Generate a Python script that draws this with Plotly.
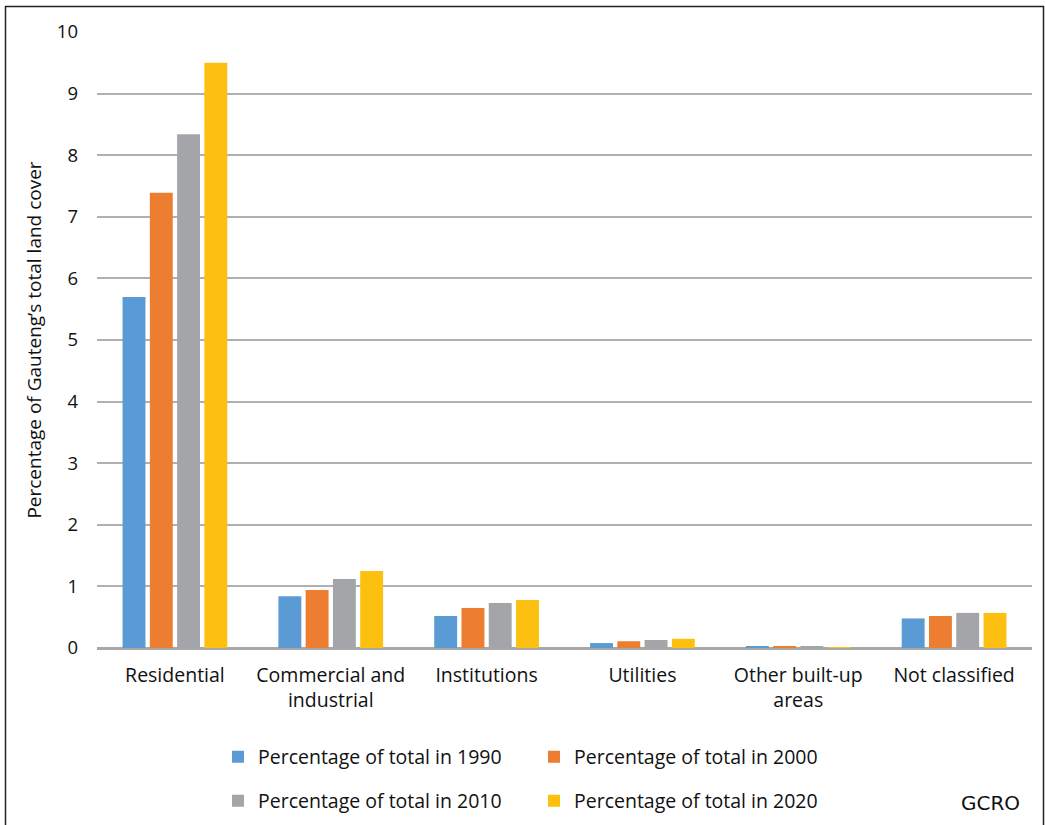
import plotly.graph_objects as go

categories = ["Residential", "Commercial and<br>industrial", "Institutions", "Utilities",
              "Other built-up<br>areas", "Not classified"]
pct_1990 = [5.70, 0.84, 0.52, 0.08, 0.02, 0.48]
pct_2000 = [7.39, 0.94, 0.65, 0.11, 0.02, 0.52]
pct_2010 = [8.34, 1.12, 0.73, 0.13, 0.02, 0.57]
pct_2020 = [9.50, 1.25, 0.78, 0.15, 0.015, 0.57]
series_names = ["Percentage of total in 1990", "Percentage of total in 2000",
                "Percentage of total in 2010", "Percentage of total in 2020"]
colors = ["#5B9BD5", "#ED7D31", "#A4A5A8", "#FDC010"]
y_ticks = list(range(0, 11))

FONT = "'Open Sans', 'Noto Sans', sans-serif"

fig = go.Figure()
legends = ["legend", "legend", "legend2", "legend2"]
for name, vals, col, lg in zip(series_names, [pct_1990, pct_2000, pct_2010, pct_2020], colors, legends):
    fig.add_trace(go.Bar(x=categories, y=vals, name=name, marker_color=col,
                         marker_line_width=0, legend=lg))

W, H = 1045, 825
L, R, T, B = 97, 13, 32, 177
pw, ph = W - L - R, H - T - B

def px_x(p):
    return (p - L) / pw

def px_y(p):
    return (H - B - p) / ph

legend_common = dict(orientation="h", font=dict(family=FONT, size=19.5, color="#111111"),
                     entrywidth=271, entrywidthmode="pixels", xanchor="left", yanchor="middle",
                     bgcolor="rgba(0,0,0,0)", borderwidth=0, traceorder="normal")

fig.update_layout(
    width=W, height=H,
    margin=dict(l=L, r=R, t=T, b=B, autoexpand=False),
    paper_bgcolor="white", plot_bgcolor="white",
    barmode="group", bargap=0.30, bargroupgap=0.16,
    font=dict(family=FONT, size=19, color="#111111"),
    xaxis=dict(showline=False, ticks="", automargin=False, ticklabelstandoff=13,
               tickfont=dict(family=FONT, size=19.5, color="#111111")),
    yaxis=dict(range=[0, 10], tickvals=y_ticks, showgrid=True, gridcolor="#B0B0B0", gridwidth=1.5,
               zeroline=True, zerolinecolor="#A8A8A8", zerolinewidth=2.5, automargin=False,
               ticks="", ticklabelstandoff=18,
               tickfont=dict(family=FONT, size=18.5, color="#111111"),
               title=dict(text="Percentage of Gauteng’s total land cover",
                          font=dict(family=FONT, size=19, color="#111111"), standoff=10)),
    legend=dict(x=px_x(218), y=px_y(757), **legend_common),
    legend2=dict(x=px_x(218), y=px_y(801), **legend_common),
    showlegend=True,
    shapes=[dict(type="rect", xref="paper", yref="paper",
                 x0=px_x(5.5), x1=px_x(1043.5), y0=px_y(830), y1=px_y(6.5),
                 line=dict(color="#222222", width=1.5), fillcolor="rgba(0,0,0,0)", layer="below")],
    annotations=[dict(text="GCRO", xref="paper", yref="paper", x=px_x(990), y=px_y(803),
                      showarrow=False, xanchor="center", yanchor="middle",
                      font=dict(family="'DejaVu Sans', sans-serif", size=20, color="#111111"))],
)

fig.write_html("out.html")
